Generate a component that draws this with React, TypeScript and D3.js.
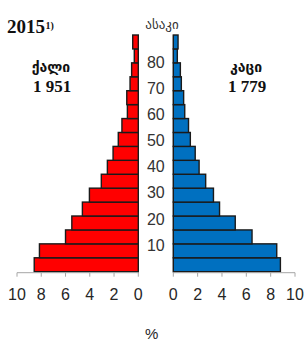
import React from "react";
import * as d3 from "d3";

const ageGroups = ["0-4","5-9","10-14","15-19","20-24","25-29","30-34","35-39","40-44","45-49","50-54","55-59","60-64","65-69","70-74","75-79","80+"];
const female = [8.58, 8.15, 6.0, 5.48, 4.61, 4.03, 3.05, 2.55, 2.08, 1.65, 1.35, 0.9, 0.95, 0.68, 0.55, 0.33, 0.46];
const male = [8.8, 8.5, 6.47, 5.09, 3.8, 3.3, 2.66, 2.12, 1.8, 1.4, 1.25, 0.94, 0.85, 0.66, 0.58, 0.33, 0.39];
const xTicks = [0, 2, 4, 6, 8, 10];
const ageTicks = [10, 20, 30, 40, 50, 60, 70, 80];

const W = 306, H = 343;

export default function App() {
  const y = d3.scaleBand<string>().domain(ageGroups).range([271.7, 35]).padding(0);
  const xL = d3.scaleLinear().domain([0, 10]).range([138.3, 17]);
  const xR = d3.scaleLinear().domain([0, 10]).range([173.3, 295]);
  const yAge = d3.scaleLinear().domain([0, 80]).range([271.1, 62.3]);
  const axisY = 272.7;
  const grey = "#a6a6a6";
  const txt = "#262626";
  return (
    <svg width={W} height={H} style={{ position: "absolute", left: 0, top: 0, background: "#fff" }}>
      <line x1={xL(0)} x2={xL(0)} y1={35} y2={axisY} stroke={grey} strokeWidth={1} />
      <line x1={xR(0)} x2={xR(0)} y1={35} y2={axisY} stroke={grey} strokeWidth={1} />
      {ageGroups.map((g, i) => (
        <rect key={"f" + g} x={xL(female[i])} y={y(g)!} width={xL(0) - xL(female[i])} height={y.bandwidth()}
          fill="#ff0000" stroke="#1a1a1a" strokeWidth={1.4} />
      ))}
      {ageGroups.map((g, i) => (
        <rect key={"m" + g} x={xR(0)} y={y(g)!} width={xR(male[i]) - xR(0)} height={y.bandwidth()}
          fill="#0070c0" stroke="#1a1a1a" strokeWidth={1.4} />
      ))}
      <line x1={xL(10)} x2={xL(0)} y1={axisY} y2={axisY} stroke={grey} strokeWidth={1} />
      <line x1={xR(0)} x2={xR(10)} y1={axisY} y2={axisY} stroke={grey} strokeWidth={1} />
      {xTicks.map(t => (
        <g key={"tl" + t}>
          <line x1={xL(t)} x2={xL(t)} y1={axisY} y2={axisY + 4} stroke={grey} />
          <text x={xL(t)} y={300} textAnchor="middle" fontFamily="Liberation Sans, Arial, sans-serif" fontSize={16} fill={txt}>{t}</text>
        </g>
      ))}
      {xTicks.map(t => (
        <g key={"tr" + t}>
          <line x1={xR(t)} x2={xR(t)} y1={axisY} y2={axisY + 4} stroke={grey} />
          <text x={xR(t)} y={300} textAnchor="middle" fontFamily="Liberation Sans, Arial, sans-serif" fontSize={16} fill={txt}>{t}</text>
        </g>
      ))}
      {ageTicks.map(a => (
        <text key={"a" + a} x={155.8} y={yAge(a)} dy="0.35em" textAnchor="middle"
          fontFamily="Liberation Sans, Arial, sans-serif" fontSize={16} fill="#333">{a}</text>
      ))}
      <text x={162} y={28.5} textAnchor="middle" fontFamily="DejaVu Sans, sans-serif" fontSize={13} fill="#333">ასაკი</text>
      <text x={151.7} y={339} textAnchor="middle" fontFamily="Liberation Sans, Arial, sans-serif" fontSize={15} fill={txt}>%</text>
      <text x={7} y={33.3} fontFamily="Liberation Serif, serif" fontWeight="bold" fontSize={19} fill="#111">2015</text>
      <text x={45.5} y={28.5} fontFamily="Liberation Serif, serif" fontWeight="bold" fontSize={10} fill="#111">1)</text>
      <text x={51} y={71.7} textAnchor="middle" fontFamily="DejaVu Sans, sans-serif" fontWeight="bold" fontSize={14} fill="#111">ქალი</text>
      <text x={52} y={91.7} textAnchor="middle" fontFamily="Liberation Serif, serif" fontWeight="bold" fontSize={17} fill="#111">1 951</text>
      <text x={246} y={71.7} textAnchor="middle" fontFamily="DejaVu Sans, sans-serif" fontWeight="bold" fontSize={14} fill="#111">კაცი</text>
      <text x={247} y={91.7} textAnchor="middle" fontFamily="Liberation Serif, serif" fontWeight="bold" fontSize={17} fill="#111">1 779</text>
    </svg>
  );
}
